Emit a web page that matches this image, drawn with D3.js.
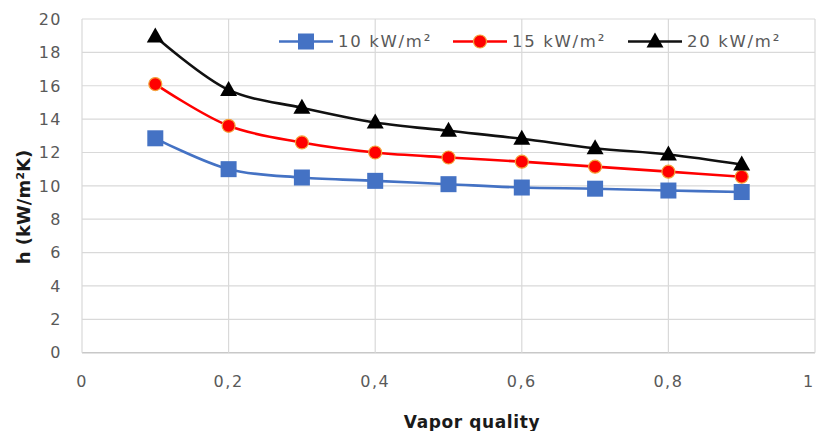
<!DOCTYPE html>
<html><head><meta charset="utf-8">
<script src="https://cdn.jsdelivr.net/npm/d3@7"></script>
<style>body{margin:0;background:#fff}svg{display:block}</style>
</head><body>
<svg id="c" width="817" height="431"></svg>
<script>
const quality = [0.1,0.2,0.3,0.4,0.5,0.6,0.7,0.8,0.9];
const h10 = [12.85,11.0,10.5,10.3,10.1,9.9,9.83,9.72,9.63];
const h15 = [16.1,13.6,12.6,12.0,11.7,11.45,11.15,10.85,10.55];
const h20 = [18.95,15.75,14.68,13.8,13.3,12.82,12.25,11.88,11.28];
const seriesNames = ["10 kW/m²","15 kW/m²","20 kW/m²"];
const xTicks = [0,0.2,0.4,0.6,0.8,1];
const yTicks = [0,2,4,6,8,10,12,14,16,18,20];

const svg = d3.select("#c");
const x = d3.scaleLinear().domain([0,1]).range([82,815]);
const y = d3.scaleLinear().domain([0,20]).range([352.7,19]);
const font = "'DejaVu Sans', Verdana, sans-serif";

// grid
svg.append("g").selectAll("line").data(yTicks).join("line")
  .attr("x1",x(0)).attr("x2",x(1)).attr("y1",d=>y(d)).attr("y2",d=>y(d))
  .attr("stroke",d=>d===0?"#c8c8c8":"#d9d9d9").attr("stroke-width",d=>d===0?1.5:1.2);
svg.append("g").selectAll("line").data(xTicks).join("line")
  .attr("x1",d=>x(d)).attr("x2",d=>x(d)).attr("y1",y(0)).attr("y2",y(20))
  .attr("stroke","#d9d9d9").attr("stroke-width",1.2);

// tick labels
svg.append("g").selectAll("text").data(yTicks).join("text")
  .attr("x",62).attr("y",d=>y(d)).attr("dy","0.36em").attr("text-anchor","end")
  .attr("font-family",font).attr("font-size",16).attr("letter-spacing",1.5).attr("fill","#595959")
  .text(d=>d);
svg.append("g").selectAll("text").data(xTicks).join("text")
  .attr("x",d=>d===1?x(d)-7:x(d)).attr("y",381.5).attr("dy","0.36em").attr("text-anchor","middle")
  .attr("font-family",font).attr("font-size",16).attr("letter-spacing",d=>d===1?0:1.5).attr("fill","#595959")
  .text(d=>String(d).replace(".",","));

// axis titles
svg.append("text").attr("x",472).attr("y",428).attr("text-anchor","middle")
  .attr("font-family",font).attr("font-size",17).attr("letter-spacing",0.6).attr("font-weight","bold").attr("fill","#1a1a1a")
  .text("Vapor quality");
svg.append("text").attr("transform","translate(30,207) rotate(-90)").attr("text-anchor","middle")
  .attr("font-family",font).attr("font-size",18).attr("font-weight","bold").attr("fill","#1a1a1a")
  .text("h (kW/m²K)");

const series = [
  {name:seriesNames[0], vals:h10, color:"#4472C4", marker:"square"},
  {name:seriesNames[1], vals:h15, color:"#FF0000", marker:"circle"},
  {name:seriesNames[2], vals:h20, color:"#111111", marker:"triangle"}
];
const line = d3.line().x(d=>x(d[0])).y(d=>y(d[1])).curve(d3.curveCatmullRom.alpha(0.5));

function drawMarker(g, s, cx, cy){
  if(s.marker==="square"){
    g.append("rect").attr("x",cx-8).attr("y",cy-8).attr("width",16).attr("height",16).attr("fill","#4472C4");
  } else if(s.marker==="circle"){
    g.append("circle").attr("cx",cx).attr("cy",cy).attr("r",6.5).attr("fill","#FF0000").attr("stroke","#F4A23A").attr("stroke-width",1.2);
  } else {
    g.append("path").attr("d",`M${cx},${cy-9}L${cx+8.5},${cy+6}L${cx-8.5},${cy+6}Z`).attr("fill","#000");
  }
}

series.forEach(s=>{
  const pts = quality.map((q,i)=>[q,s.vals[i]]);
  svg.append("path").datum(pts).attr("d",line).attr("fill","none").attr("stroke",s.color).attr("stroke-width",2.6);
  const g = svg.append("g");
  pts.forEach(p=>drawMarker(g,s,x(p[0]),y(p[1])));
});

// legend
const legX = [279,453,628];
series.forEach((s,i)=>{
  const lx = legX[i], ly = 41.5;
  const g = svg.append("g");
  g.append("line").attr("x1",lx).attr("x2",lx+54).attr("y1",ly).attr("y2",ly).attr("stroke",s.color).attr("stroke-width",2.6);
  drawMarker(g,s,lx+27,ly);
  g.append("text").attr("x",lx+59).attr("y",ly).attr("dy","0.36em")
    .attr("font-family",font).attr("font-size",16.5).attr("letter-spacing",1.7).attr("fill","#595959").text(s.name);
});
</script>
</body></html>
